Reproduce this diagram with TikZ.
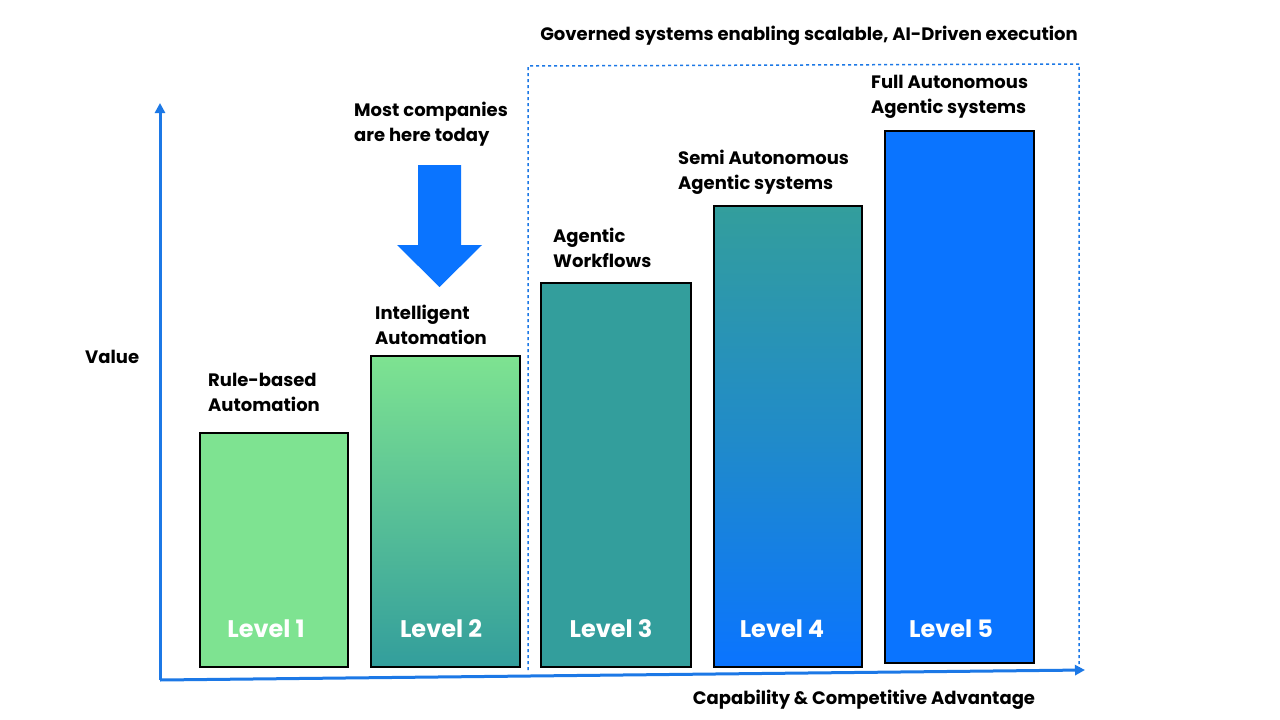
\documentclass[tikz,border=0pt]{standalone}
\usepackage{fontspec}
\setmainfont{Poppins}
\usetikzlibrary{arrows.meta}
\definecolor{lg}{HTML}{7EE391}
\definecolor{tl}{HTML}{339E9C}
\definecolor{bl}{HTML}{0A74FF}
\definecolor{ax}{HTML}{1C78E6}
\tikzset{bar/.style={draw=black,line width=1.6pt},
lab/.style={anchor=west,align=left,font=\fontsize{18}{25}\selectfont\bfseries,inner sep=0pt},
lvl/.style={text=white,font=\fontsize{24}{28}\selectfont\bfseries}}
\begin{document}
\begin{tikzpicture}[x=1pt,y=-1pt]
\useasboundingbox[fill=white] (0,0) rectangle (1280,720);
\node[bar,fill=lg,minimum width=148,minimum height=234,anchor=north west,inner sep=0] (b1) at (199,432) {};
\shade[top color=lg,bottom color=tl,middle color=lg!50!tl] (370,355) rectangle (519,666);
\node[bar,minimum width=149,minimum height=311,anchor=north west,inner sep=0] (b2) at (370,355) {};
\node[bar,fill=tl,minimum width=150,minimum height=384,anchor=north west,inner sep=0] (b3) at (540,282) {};
\shade[top color=tl,bottom color=bl,middle color=tl!55!bl] (713,205) rectangle (861,666);
\node[bar,minimum width=148,minimum height=461,anchor=north west,inner sep=0] (b4) at (713,205) {};
\node[bar,fill=bl,minimum width=149,minimum height=532,anchor=north west,inner sep=0] (b5) at (884,130) {};
\node[lvl] at (266,629) {Level 1};
\node[lvl] at (441,629) {Level 2};
\node[lvl] at (611,629) {Level 3};
\node[lvl] at (782,629) {Level 4};
\node[lvl] at (951,629) {Level 5};
\node[lab] (t1) at (208,392) {Rule-based\\Automation};
\node[lab] (t2) at (375,325) {Intelligent\\Automation};
\node[lab] (t3) at (553,248) {Agentic\\Workflows};
\node[lab] (t4) at (678,172) {Semi Autonomous\\Agentic systems};
\node[lab] (t5) at (871,97) {Full Autonomous\\Agentic systems};
\node[lab] (t6) at (354,124) {Most companies\\are here today};
\node[lab,anchor=center] (ti) at (809,36) {Governed systems enabling scalable, AI-Driven execution};
\node[lab] (tv) at (85,357) {Value};
\node[lab,anchor=center] (tc) at (864,700) {Capability \& Competitive Advantage};
\fill[bl] (418,165) -- (461,165) -- (461,245) -- (482,245) -- (439.5,287) -- (397,245) -- (418,245) -- cycle;
\draw[ax,dashed,line width=1.5pt] (528,670) -- (528,66) -- (1079,64) -- (1079,670);
\coordinate (o) at (160,680);
\coordinate (yt) at (160,103);
\coordinate (xt) at (1085,670);
\draw[ax,line width=3pt,-{Triangle[length=10pt,width=10pt]}] (o) -- (yt);
\draw[ax,line width=3pt,-{Triangle[length=10pt,width=10pt]}] (o) -- (xt);
\end{tikzpicture}
\end{document}
